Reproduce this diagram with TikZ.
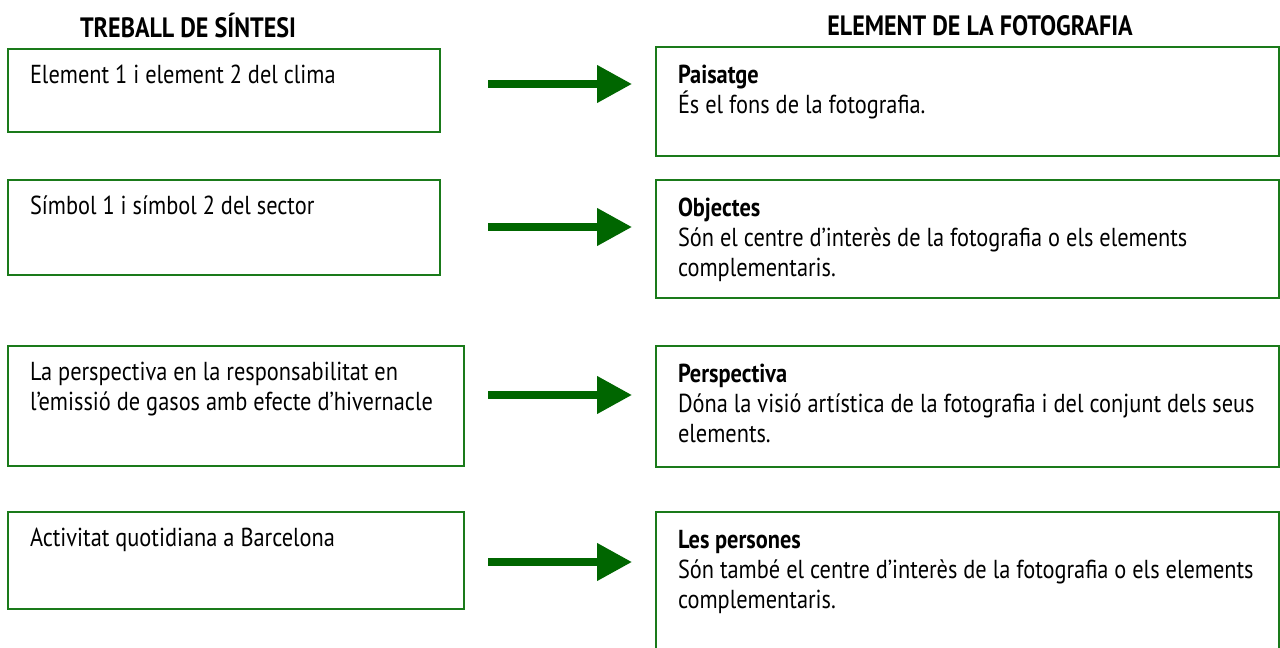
\documentclass[tikz,border=0pt]{standalone}
\usepackage{fontspec}
\setmainfont{PT Sans}[FakeStretch=0.86]
\usepackage{tikz}
\usetikzlibrary{arrows.meta,positioning}
\definecolor{Verd}{HTML}{006600}
\definecolor{VoraVerd}{HTML}{1A7A1A}
\definecolor{DarkText}{HTML}{000000}
\tikzset{
  capsal/.style={font=\bfseries\fontsize{14}{16}\selectfont, text=DarkText, inner sep=0pt},
  caixa/.style={draw=VoraVerd, line width=1pt, fill=white, anchor=north west, inner sep=0pt, outer sep=0pt},
  txt/.style={font=\fontsize{13}{15}\selectfont, text=DarkText, align=left, inner sep=0pt, outer sep=0pt},
  fletxa/.style={-{Triangle[length=17.5pt, width=18pt]}, line width=3.75pt, draw=Verd}
}

\begin{document}
\begin{tikzpicture}[x=0.5pt,y=-0.5pt]
\clip (0,0) rectangle (1280,648);
\fill[white] (0,0) rectangle (1280,648);
% titols
\node[capsal] (tit1) at (188,26) {TREBALL DE SÍNTESI};
\node[capsal] (tit2) at (980,26) {ELEMENT DE LA FOTOGRAFIA};
% treball de sintesi
\node[caixa, minimum width=216pt, minimum height=41.5pt] (l1) at (8,49) {};
\node[caixa, minimum width=216pt, minimum height=47.5pt] (l2) at (8,180) {};
\node[caixa, minimum width=228pt, minimum height=60pt] (l3) at (8,346) {};
\node[caixa, minimum width=228pt, minimum height=48.5pt] (l4) at (8,512) {};
\node[txt, below right=8pt and 11pt of l1.north west] (l1t) {Element 1 i element 2 del clima};
\node[txt, below right=8pt and 11pt of l2.north west] (l2t) {Símbol 1 i símbol 2 del sector};
\node[txt, below right=8pt and 11pt of l3.north west] (l3t) {La perspectiva en la responsabilitat en\\l’emissió de gasos amb efecte d’hivernacle};
\node[txt, below right=8pt and 11pt of l4.north west] (l4t) {Activitat quotidiana a Barcelona};
% element de la fotografia
\node[caixa, minimum width=311.5pt, minimum height=54.5pt] (r1) at (656,47) {};
\node[caixa, minimum width=311.5pt, minimum height=59pt] (r2) at (656,180) {};
\node[caixa, minimum width=311.5pt, minimum height=60.5pt] (r3) at (656,346) {};
\node[caixa, minimum width=311.5pt, minimum height=80pt] (r4) at (656,512) {};
\node[txt, below right=9pt and 11pt of r1.north west] (r1t) {\textbf{Paisatge}\\És el fons de la fotografia.};
\node[txt, below right=9pt and 11pt of r2.north west] (r2t) {\textbf{Objectes}\\Són el centre d’interès de la fotografia o els elements\\complementaris.};
\node[txt, below right=9pt and 11pt of r3.north west] (r3t) {\textbf{Perspectiva}\\Dóna la visió artística de la fotografia i del conjunt dels seus\\elements.};
\node[txt, below right=9pt and 11pt of r4.north west] (r4t) {\textbf{Les persones}\\Són també el centre d’interès de la fotografia o els elements\\complementaris.};
% fletxes
\foreach \y [count=\i] in {84,227,395,562} {
  \coordinate (f\i a) at (488,\y);
  \coordinate (f\i b) at (632,\y);
  \draw[fletxa] (f\i a) -- (f\i b);
}
\end{tikzpicture}
\end{document}
